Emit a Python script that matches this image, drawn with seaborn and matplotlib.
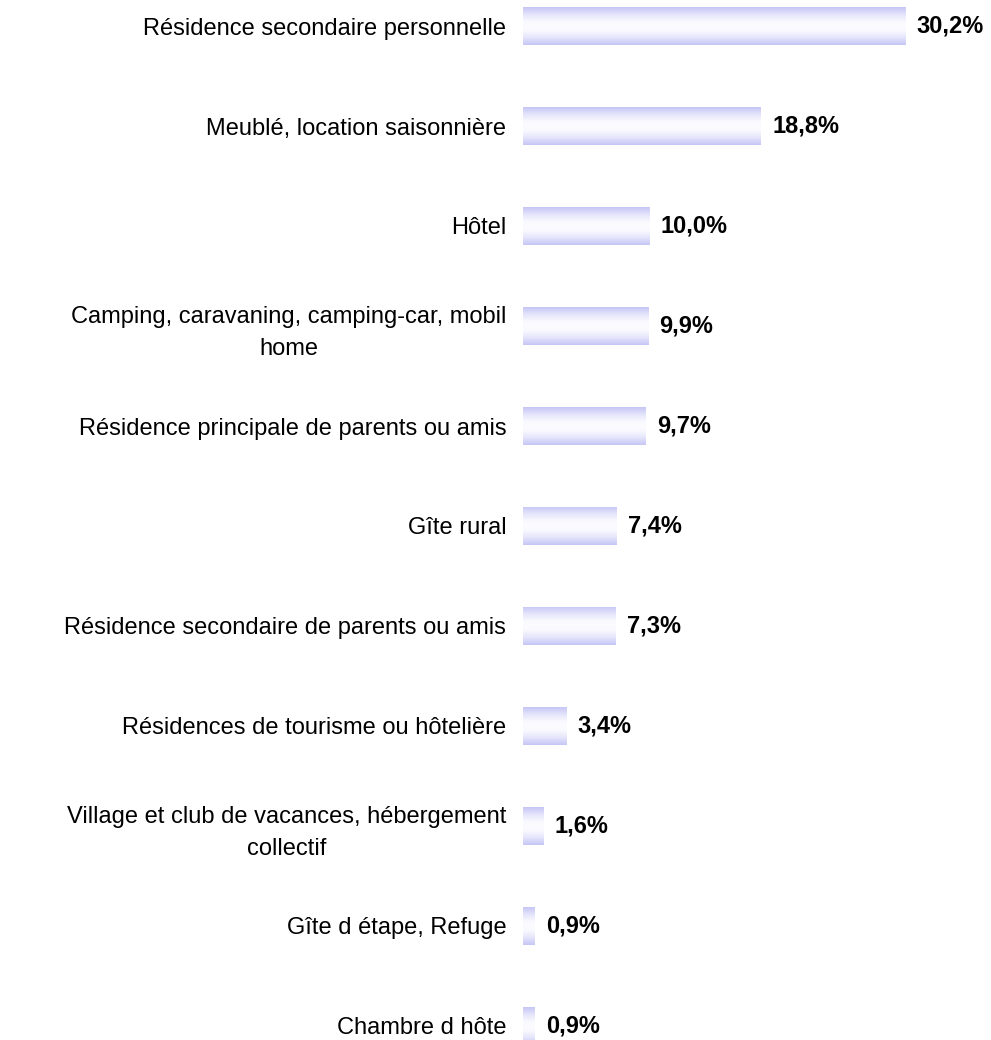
import matplotlib
matplotlib.use("Agg")
from matplotlib import pyplot as plt
import matplotlib.colors as mcolors
import pandas as pd
import seaborn as sns
import numpy as np

categories = [
    "Résidence secondaire personnelle",
    "Meublé, location saisonnière",
    "Hôtel",
    "Camping, caravaning, camping-car, mobil\nhome",
    "Résidence principale de parents ou amis",
    "Gîte rural",
    "Résidence secondaire de parents ou amis",
    "Résidences de tourisme ou hôtelière",
    "Village et club de vacances, hébergement\ncollectif",
    "Gîte d étape, Refuge",
    "Chambre d hôte",
]
values = [30.2, 18.8, 10.0, 9.9, 9.7, 7.4, 7.3, 3.4, 1.6, 0.9, 0.9]

df = pd.DataFrame({"cat": categories, "val": values})

sns.set_style("white")
plt.rcParams['font.family'] = ['Liberation Sans', 'DejaVu Sans']

fig = plt.figure(figsize=(9.91, 10.4), dpi=100)
ax = fig.add_axes([0.5277, 0, 0.4723, 1])

ax = sns.barplot(data=df, x="val", y="cat", orient="h", width=0.38,
                 color="#ccccff", ax=ax, zorder=2)

# vertical gradient: lavender edges, white middle
cmap = mcolors.LinearSegmentedColormap.from_list(
    "lav", ["#c6c6f6", "#e6e6fb", "#fbfbff", "#fbfbff", "#e6e6fb", "#c6c6f6"])
grad = np.linspace(0, 1, 64).reshape(-1, 1)
for p in ax.patches:
    x0, y0 = p.get_x(), p.get_y()
    w, h = p.get_width(), p.get_height()
    im = ax.imshow(grad, cmap=cmap, aspect="auto", zorder=3,
                   extent=[x0, x0 + w, y0 + h, y0], interpolation="bicubic")
    im.set_clip_path(p)
    p.set_edgecolor("none")

for i, v in enumerate(values):
    ax.text(v + 0.9, i, f"{v:.1f}%".replace(".", ","), va="center", ha="left",
            fontsize=17, fontweight="bold", color="black")

ax.set_xlim(0, 37)
ax.set_ylim(10.14, -0.26)
ax.set_xlabel("")
ax.set_ylabel("")
ax.set_xticks([])
ax.set_yticks(range(len(categories)))
ax.set_yticklabels(categories, fontsize=17, multialignment="center",
                   linespacing=1.55, color="black")
ax.tick_params(axis="y", length=0, pad=12)
for s in ax.spines.values():
    s.set_visible(False)

fig.savefig("out.png", dpi=100)
